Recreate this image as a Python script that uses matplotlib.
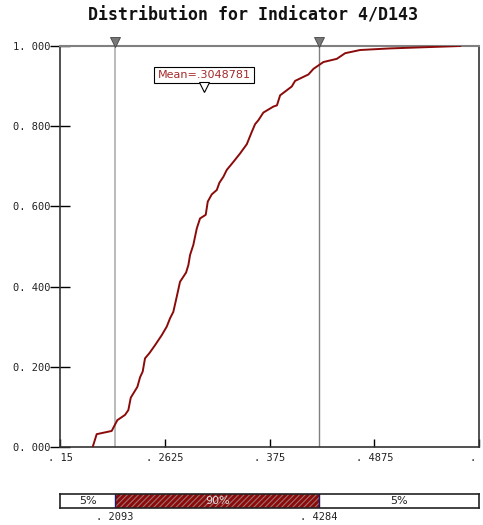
import numpy as np
import matplotlib.pyplot as plt
from matplotlib.patches import Rectangle

# cumulative curve
cdf_x = [0.1851, 0.1894, 0.2055, 0.2116, 0.2198, 0.2234, 0.2260, 0.2331, 0.2360,
         0.2388, 0.2413, 0.2460, 0.2521, 0.2593, 0.2646, 0.2682, 0.2717, 0.2754,
         0.2789, 0.2854, 0.2879, 0.2897, 0.2932, 0.2969, 0.3004, 0.3065, 0.3087,
         0.3130, 0.3184, 0.3212, 0.3255, 0.3291, 0.3362, 0.3434, 0.3506, 0.3560,
         0.3595, 0.3631, 0.3684, 0.3792, 0.3830, 0.3864, 0.3989, 0.4025, 0.4168,
         0.4222, 0.4329, 0.4473, 0.4562, 0.4723, 0.5046, 0.5798]
cdf_y = [0.000, 0.032, 0.040, 0.067, 0.080, 0.092, 0.123, 0.150, 0.174,
         0.188, 0.221, 0.234, 0.254, 0.279, 0.300, 0.321, 0.337, 0.375,
         0.412, 0.435, 0.454, 0.479, 0.504, 0.545, 0.570, 0.579, 0.612,
         0.630, 0.641, 0.659, 0.674, 0.691, 0.711, 0.732, 0.755, 0.786,
         0.805, 0.815, 0.834, 0.849, 0.852, 0.877, 0.899, 0.913, 0.929,
         0.943, 0.960, 0.968, 0.982, 0.990, 0.994, 1.000]

x_ticks = [0.15, 0.2625, 0.375, 0.4875, 0.6]
x_labels = [". 15", ". 2625", ". 375", ". 4875", ". 6"]
y_ticks = [0.0, 0.2, 0.4, 0.6, 0.8, 1.0]
y_labels = ["0. 000", "0. 200", "0. 400", "0. 600", "0. 800", "1. 000"]

lo, hi = 0.2093, 0.4284
mean = 0.3048781
pct = ["5%", "90%", "5%"]
title = "Distribution for Indicator 4/D143"

red = "#8b0a0a"
mono = "DejaVu Sans Mono"
plt.rcParams["hatch.color"] = "#a06060"
plt.rcParams["hatch.linewidth"] = 0.8

fig = plt.figure(figsize=(4.83, 5.25), dpi=100)
ax = fig.add_axes([60/483, 1-447/525, 419/483, 401/525])

ax.plot(cdf_x, cdf_y, color=red, lw=1.4, zorder=3)
ax.axvline(lo, color="#b4b4b4", lw=1.3, zorder=1)
ax.axvline(hi, color="#808080", lw=1.0, zorder=1)
ax.plot([lo, hi], [1.009, 1.009], 'v', ms=6.5, color="#777777", mec="#444444",
        mew=0.6, clip_on=False, zorder=5)

# mean marker + box
ax.plot([mean], [0.899], 'v', ms=7, mfc="white", mec="black", mew=0.8, zorder=5)
ax.text(mean, 0.928, "Mean=.3048781", ha="center", va="center", fontsize=8,
        color="#a52a2a",
        bbox=dict(boxstyle="square,pad=0.3", fc="white", ec="black", lw=0.8))

ax.set_xlim(0.15, 0.6)
ax.set_ylim(0, 1)
ax.set_xticks(x_ticks)
ax.set_xticklabels(x_labels, family=mono, fontsize=7.5, color="#222222")
ax.set_yticks(y_ticks)
ax.set_yticklabels(y_labels, family=mono, fontsize=7.5, color="#222222")
ax.tick_params(axis="x", direction="in", length=6, width=1, pad=4)
ax.tick_params(axis="y", direction="inout", length=14, width=1, pad=0)
for s in ["left", "bottom", "right"]:
    ax.spines[s].set_color("#333333")
    ax.spines[s].set_linewidth(1.2)
ax.spines["top"].set_color("#808080")
ax.spines["top"].set_linewidth(1.5)

fig.text(253/483, 1-16/525, title, ha="center", va="center", family=mono,
         fontweight="bold", fontsize=12, color="#111111")

# percentile bar
bx = fig.add_axes([60/483, 1-507.5/525, 419/483, 13.5/525])
bx.set_xlim(0.15, 0.6)
bx.set_ylim(0, 1)
bx.add_patch(Rectangle((0.15, 0), lo-0.15, 1, fc="white", ec="none"))
bx.add_patch(Rectangle((lo, 0), hi-lo, 1, fc="#8b0a0a", ec="#a07070",
                       hatch="//////", lw=0))
bx.add_patch(Rectangle((hi, 0), 0.6-hi, 1, fc="white", ec="none"))
bx.axvline(lo, color="#1a1a6a", lw=1)
bx.axvline(hi, color="#1a1a6a", lw=1)
bx.text((0.15+lo)/2, 0.45, pct[0], ha="center", va="center", fontsize=8, color="#222222")
bx.text((lo+hi)/2, 0.45, pct[1], ha="center", va="center", fontsize=8, color="#dddddd")
bx.text((hi+0.6)/2, 0.45, pct[2], ha="center", va="center", fontsize=8, color="#222222")
bx.set_xticks([lo, hi])
bx.set_xticklabels([". 2093", ". 4284"], family=mono, fontsize=7.5, color="#222222")
bx.tick_params(axis="x", length=0, pad=3)
bx.set_yticks([])
for s in bx.spines.values():
    s.set_color("#222222")
    s.set_linewidth(1.2)

fig.savefig("out.png", dpi=100)
